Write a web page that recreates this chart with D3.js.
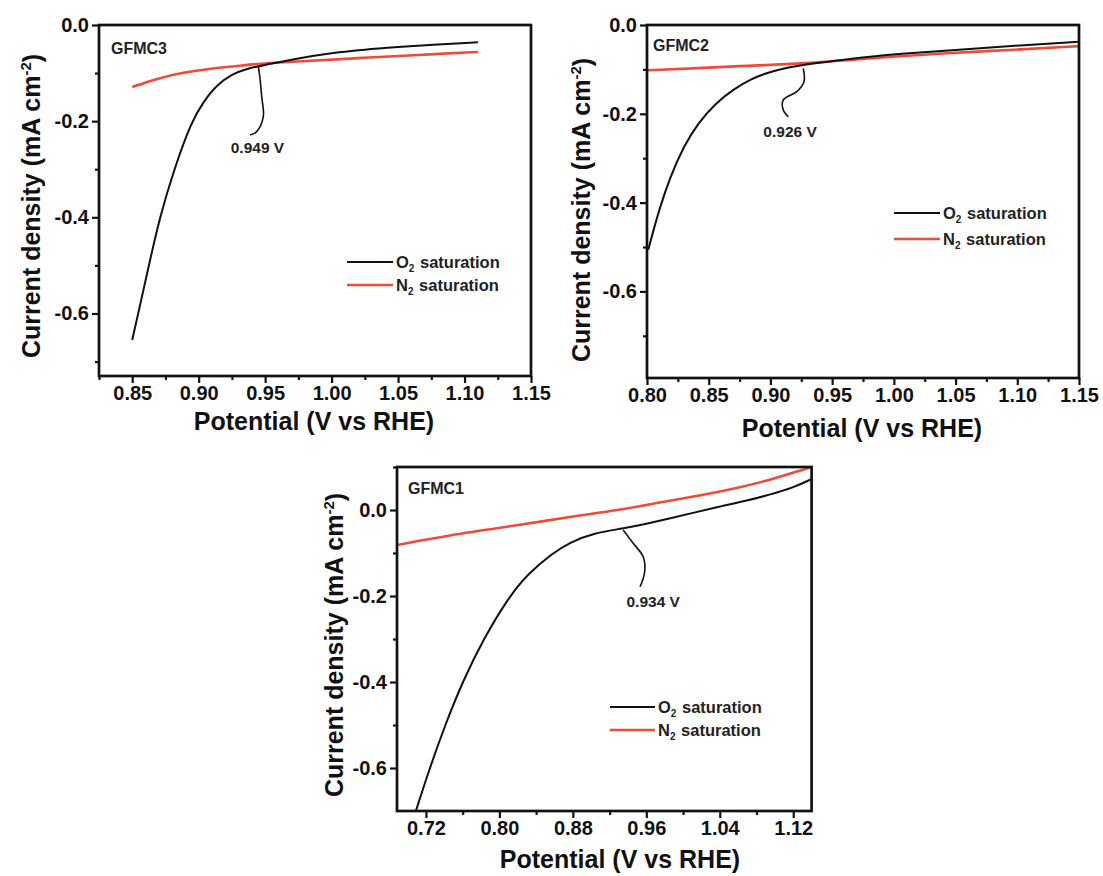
<!DOCTYPE html>
<html><head><meta charset="utf-8">
<script src="https://cdn.jsdelivr.net/npm/d3@7/dist/d3.min.js"></script>
<style>
body{margin:0;background:#fff;}
svg{display:block;font-family:"Liberation Sans",Arial,sans-serif;font-weight:bold;}
</style>
</head><body><svg id="c" width="1103" height="876"></svg>
<script>
// ---------- DATA ----------
// GFMC3
const gfmc3O2Potential = [0.85,0.8545,0.8625,0.8707,0.8815,0.8947,0.9035,0.9135,0.925,0.937,0.95,0.975,1.0,1.025,1.05,1.075,1.11];
const gfmc3O2Current   = [-0.655,-0.6,-0.5,-0.4,-0.3,-0.2,-0.16,-0.125,-0.102,-0.090,-0.083,-0.069,-0.058,-0.051,-0.046,-0.041,-0.036];
const gfmc3N2Potential = [0.85,0.869,0.887,0.9085,0.935,0.95,0.9745,1.0,1.028,1.055,1.081,1.11];
const gfmc3N2Current   = [-0.129,-0.111,-0.0995,-0.0905,-0.0835,-0.0795,-0.076,-0.072,-0.0675,-0.064,-0.060,-0.056];
const gfmc3XTicks = [0.85,0.90,0.95,1.00,1.05,1.10,1.15];
const gfmc3XMinor = [0.825,0.875,0.925,0.975,1.025,1.075,1.125];
const gfmc3YTicks = [0,-0.2,-0.4,-0.6];
const gfmc3YMinor = [-0.1,-0.3,-0.5,-0.7];
const gfmc3Onset = "0.949 V";
const gfmc3Leader = [[0.9449,-0.0867],[0.9461,-0.1108],[0.9474,-0.149],[0.9486,-0.1906],[0.9436,-0.2218],[0.9386,-0.2287]];
const gfmc3OnsetLabelAt = [0.9442,-0.2557];

// GFMC2
const gfmc2O2Potential = [0.801,0.8043,0.81,0.8186,0.83,0.841,0.856,0.87,0.884,0.8986,0.9157,0.927,0.95,0.979,1.007,1.05,1.093,1.15];
const gfmc2O2Current   = [-0.506,-0.472,-0.415,-0.343,-0.272,-0.222,-0.175,-0.145,-0.122,-0.106,-0.095,-0.089,-0.0815,-0.0717,-0.064,-0.0566,-0.0475,-0.0377];
const gfmc2N2Potential = [0.80,0.836,0.879,0.927,0.979,1.036,1.093,1.15];
const gfmc2N2Current   = [-0.102,-0.098,-0.092,-0.0868,-0.0755,-0.064,-0.0566,-0.0475];
const gfmc2XTicks = [0.80,0.85,0.90,0.95,1.00,1.05,1.10,1.15];
const gfmc2XMinor = [0.825,0.875,0.925,0.975,1.025,1.075,1.125];
const gfmc2YTicks = [0,-0.2,-0.4,-0.6];
const gfmc2YMinor = [-0.1,-0.3,-0.5,-0.7];
const gfmc2Onset = "0.926 V";
const gfmc2Leader = [[0.9266,-0.0975],[0.9272,-0.1277],[0.9213,-0.1502],[0.9104,-0.1689],[0.9104,-0.1914],[0.9145,-0.2065]];
const gfmc2OnsetLabelAt = [0.9159,-0.2403];

// GFMC1
const gfmc1O2Potential = [0.709,0.7242,0.7409,0.7598,0.7825,0.8111,0.8303,0.8581,0.877,0.9018,0.935,0.96,0.985,1.01,1.04,1.07,1.095,1.12,1.14];
const gfmc1O2Current   = [-0.70,-0.60,-0.50,-0.40,-0.30,-0.20,-0.15,-0.10,-0.075,-0.054,-0.043,-0.032,-0.020,-0.007,0.008,0.022,0.036,0.052,0.072];
const gfmc1N2Potential = [0.6885,0.768,0.8224,0.8769,0.9312,0.9784,1.0219,1.0582,1.0945,1.1307,1.14];
const gfmc1N2Current   = [-0.0814,-0.0505,-0.0349,-0.0156,0.0,0.0193,0.0349,0.0505,0.0698,0.094,0.1];
const gfmc1XTicks = [0.72,0.80,0.88,0.96,1.04,1.12];
const gfmc1XMinor = [0.76,0.84,0.92,1.00,1.08];
const gfmc1YTicks = [0,-0.2,-0.4,-0.6];
const gfmc1YMinor = [0.1,-0.1,-0.3,-0.5];
const gfmc1Onset = "0.934 V";
const gfmc1Leader = [[0.9348,-0.0465],[0.9457,-0.0774],[0.9566,-0.1086],[0.9584,-0.1395],[0.9548,-0.1705],[0.9530,-0.1784]];
const gfmc1OnsetLabelAt = [0.9675,-0.2133];

const seriesNames = ["O2 saturation","N2 saturation"];
const seriesColors = ["#111111","#f04a3a"];

// ---------- DRAW ----------
const svg = d3.select("#c");
svg.append("rect").attr("width",1103).attr("height",876).attr("fill","#fff");

function zip(a,b){return a.map((v,i)=>[v,b[i]]);}

function drawPanel(c){
  const x = d3.scaleLinear().domain(c.xd).range(c.xr);
  const y = d3.scaleLinear().domain(c.yd).range(c.yr);
  const g = svg.append("g");
  const bottom = c.yr[0], top = c.yr[1], left = c.xr[0], right = c.xr[1];

  const cid = "clip"+c.id;
  svg.append("clipPath").attr("id",cid).append("rect")
     .attr("x",left).attr("y",top).attr("width",right-left).attr("height",bottom-top);

  const line = d3.line().x(d=>x(d[0])).y(d=>y(d[1])).curve(d3.curveBasis);
  const lead = d3.line().x(d=>x(d[0])).y(d=>y(d[1])).curve(d3.curveCatmullRom.alpha(0.5));
  const plot = g.append("g").attr("clip-path",`url(#${cid})`);
  plot.append("path").attr("d",line(zip(c.n2x,c.n2y))).attr("fill","none")
      .attr("stroke",seriesColors[1]).attr("stroke-width",2.6);
  plot.append("path").attr("d",line(zip(c.o2x,c.o2y))).attr("fill","none")
      .attr("stroke",seriesColors[0]).attr("stroke-width",2);

  const xa = g.append("g").attr("transform",`translate(0,${bottom})`)
    .call(d3.axisBottom(x).tickValues(c.xt).tickSize(7).tickPadding(3).tickFormat(d=>d.toFixed(2)));
  const xm = g.append("g").attr("transform",`translate(0,${bottom})`)
    .call(d3.axisBottom(x).tickValues(c.xm).tickSize(4).tickFormat(""));
  const ya = g.append("g").attr("transform",`translate(${left},0)`)
    .call(d3.axisLeft(y).tickValues(c.yt).tickSize(7).tickPadding(3).tickFormat(d=>d.toFixed(1)));
  const ym = g.append("g").attr("transform",`translate(${left},0)`)
    .call(d3.axisLeft(y).tickValues(c.ym).tickSize(4).tickFormat(""));
  [xa,xm,ya,ym].forEach(a=>{
    a.select(".domain").remove();
    a.selectAll("line").attr("stroke","#111").attr("stroke-width",2.2);
    a.selectAll("text").attr("fill","#111").style("font-size","20px").style("font-weight","bold")
      .style("font-family",'"Liberation Sans",Arial,sans-serif');
  });

  g.append("rect").attr("x",left).attr("y",top).attr("width",right-left).attr("height",bottom-top)
   .attr("fill","none").attr("stroke","#111").attr("stroke-width",2.7);

  g.append("text").attr("x",c.labelPos[0]).attr("y",c.labelPos[1]).text(c.label)
   .attr("fill","#222").style("font-size","16px");

  g.append("path").attr("d",lead(c.leader)).attr("fill","none").attr("stroke","#111").attr("stroke-width",1.6);
  g.append("text").attr("x",x(c.onsetAt[0])).attr("y",y(c.onsetAt[1])).attr("dy","0.35em")
   .attr("text-anchor","middle").text(c.onset).attr("fill","#222").style("font-size","15.5px");

  seriesNames.forEach((n,i)=>{
    const ly = c.leg[2] + i*c.leg[3];
    g.append("line").attr("x1",c.leg[0]).attr("x2",c.leg[1]).attr("y1",ly).attr("y2",ly)
     .attr("stroke",seriesColors[i]).attr("stroke-width",i?2.6:2);
    const t = g.append("text").attr("x",c.leg[1]+3).attr("y",ly).attr("dy","0.35em")
     .attr("fill","#222").style("font-size","16.5px");
    t.append("tspan").text(n.slice(0,1));
    t.append("tspan").text("2").style("font-size","10px").attr("dy","0.45em");
    t.append("tspan").text(n.slice(2)).attr("dy","-0.28em").attr("dx","1");
  });

  g.append("text").attr("x",c.xTitle[0]).attr("y",c.xTitle[1]).attr("text-anchor","middle")
   .text("Potential (V vs RHE)").attr("fill","#111").style("font-size","25px");
  const yt = g.append("text").attr("transform",`translate(${c.yTitle[0]},${c.yTitle[1]}) rotate(-90)`)
   .attr("text-anchor","middle").attr("fill","#111").style("font-size","25px");
  yt.append("tspan").text("Current density (mA cm");
  yt.append("tspan").text("-2").style("font-size","15px").attr("dy","-0.6em");
  yt.append("tspan").text(")").attr("dy","0.38em");
}

drawPanel({id:3, xd:[0.825,1.15], xr:[99,531], yd:[-0.73,0], yr:[376,25],
  o2x:gfmc3O2Potential,o2y:gfmc3O2Current,n2x:gfmc3N2Potential,n2y:gfmc3N2Current,
  xt:gfmc3XTicks,xm:gfmc3XMinor,yt:gfmc3YTicks,ym:gfmc3YMinor,
  label:"GFMC3",labelPos:[111,54],onset:gfmc3Onset,leader:gfmc3Leader,onsetAt:gfmc3OnsetLabelAt,
  leg:[347,393,262,23],xTitle:[314,430],yTitle:[40,206]});

drawPanel({id:2, xd:[0.80,1.15], xr:[647,1079], yd:[-0.795,0], yr:[378,25],
  o2x:gfmc2O2Potential,o2y:gfmc2O2Current,n2x:gfmc2N2Potential,n2y:gfmc2N2Current,
  xt:gfmc2XTicks,xm:gfmc2XMinor,yt:gfmc2YTicks,ym:gfmc2YMinor,
  label:"GFMC2",labelPos:[653,51],onset:gfmc2Onset,leader:gfmc2Leader,onsetAt:gfmc2OnsetLabelAt,
  leg:[894,940,213,26],xTitle:[862,437],yTitle:[590,210]});

drawPanel({id:1, xd:[0.6885,1.14], xr:[397,811.6], yd:[-0.7,0.1], yr:[811,467],
  o2x:gfmc1O2Potential,o2y:gfmc1O2Current,n2x:gfmc1N2Potential,n2y:gfmc1N2Current,
  xt:gfmc1XTicks,xm:gfmc1XMinor,yt:gfmc1YTicks,ym:gfmc1YMinor,
  label:"GFMC1",labelPos:[408,494],onset:gfmc1Onset,leader:gfmc1Leader,onsetAt:gfmc1OnsetLabelAt,
  leg:[610,655,707,23],xTitle:[620,868],yTitle:[343,645]});
</script></body></html>
